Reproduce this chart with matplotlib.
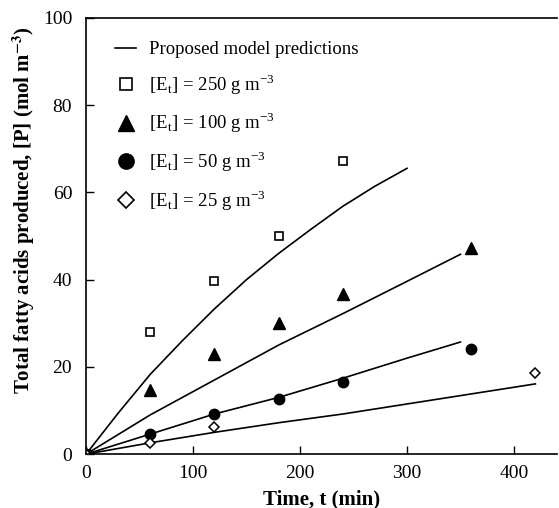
import matplotlib.pyplot as plt
from matplotlib.lines import Line2D

plt.rcParams['font.family'] = 'Liberation Serif'
plt.rcParams['mathtext.fontset'] = 'stix'

# experimental points
t_250 = [0, 60, 120, 180, 240]
p_250 = [0, 28.1, 39.7, 50.0, 67.1]
t_100 = [0, 60, 120, 180, 240, 360]
p_100 = [0, 14.7, 22.9, 30.0, 36.8, 47.2]
t_50 = [0, 60, 120, 180, 240, 360]
p_50 = [0, 4.7, 9.3, 12.6, 16.6, 24.2]
t_25 = [0, 60, 120, 420]
p_25 = [0, 2.5, 6.3, 18.7]

# model curves
mt_250 = [0, 30, 60, 90, 120, 150, 180, 210, 240, 270, 300]
mp_250 = [0, 9.4, 18.3, 26.0, 33.3, 40.0, 46.0, 51.5, 56.8, 61.4, 65.5]
mt_100 = [0, 60, 120, 180, 240, 300, 350]
mp_100 = [0, 9.0, 17.0, 25.0, 32.2, 39.6, 45.8]
mt_50 = [0, 60, 120, 180, 240, 300, 350]
mp_50 = [0, 4.6, 9.2, 13.0, 17.4, 22.0, 25.7]
mt_25 = [0, 60, 120, 180, 240, 300, 360, 420]
mp_25 = [0, 2.6, 5.0, 7.2, 9.2, 11.5, 13.8, 16.1]

labels = ['Proposed model predictions',
          r'[E$_\mathregular{t}$] = 250 g m$^\mathregular{-3}$',
          r'[E$_\mathregular{t}$] = 100 g m$^\mathregular{-3}$',
          r'[E$_\mathregular{t}$] = 50 g m$^\mathregular{-3}$',
          r'[E$_\mathregular{t}$] = 25 g m$^\mathregular{-3}$']

fig = plt.figure(figsize=(5.59, 5.08), dpi=100)
ax = fig.add_axes([0.154, 0.106, 0.842, 0.859])

for mt, mp in [(mt_250, mp_250), (mt_100, mp_100), (mt_50, mp_50), (mt_25, mp_25)]:
    ax.plot(mt, mp, color='black', lw=1.2)

ax.plot(t_250, p_250, 's', ms=6, mfc='white', mec='black', mew=1.2)
ax.plot(t_100, p_100, '^', ms=8, color='black')
ax.plot(t_50, p_50, 'o', ms=7.5, color='black')
ax.plot(t_25, p_25, 'D', ms=5.5, mfc='white', mec='black', mew=1.1)

handles = [Line2D([], [], color='black', lw=1.2),
           Line2D([], [], marker='s', ls='', ms=9, mfc='white', mec='black', mew=1.2),
           Line2D([], [], marker='^', ls='', ms=11, color='black'),
           Line2D([], [], marker='o', ls='', ms=11, color='black'),
           Line2D([], [], marker='D', ls='', ms=8, mfc='white', mec='black', mew=1.2)]
ax.legend(handles, labels, loc='upper left', frameon=False, fontsize=13.5,
          labelspacing=0.76, handlelength=1.1, handletextpad=0.7,
          bbox_to_anchor=(0.026, 0.985))

ax.set_xlim(0, 440)
ax.set_ylim(0, 100)
ax.set_xticks([0, 100, 200, 300, 400])
ax.set_yticks([0, 20, 40, 60, 80, 100])
ax.tick_params(direction='in', length=6, labelsize=14, width=1)
ax.tick_params(axis='x', pad=8)
ax.tick_params(axis='y', pad=10)
ax.spines['right'].set_visible(False)
for s in ['left', 'top', 'bottom']:
    ax.spines[s].set_linewidth(1.2)

ax.set_xlabel('Time, t (min)', fontsize=15, fontweight='bold', labelpad=5)
ax.set_ylabel(r'Total fatty acids produced, [P] (mol m$^\mathbf{-3}$)',
              fontsize=15, fontweight='bold')
ax.yaxis.set_label_coords(-0.105, 0.56)

fig.savefig('out.png', dpi=100)
